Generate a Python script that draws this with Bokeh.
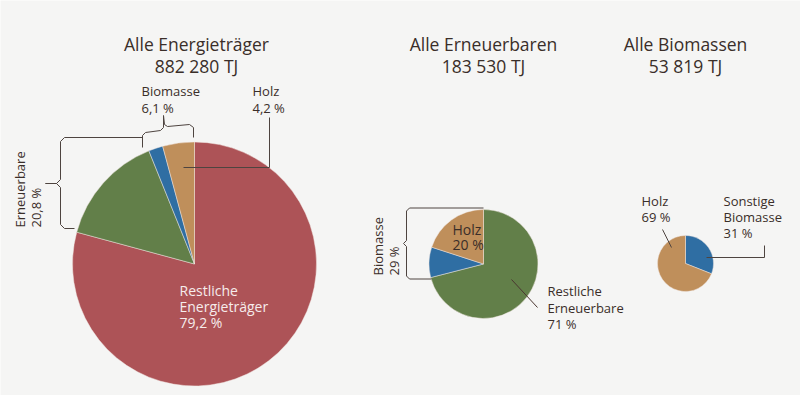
import math
from bokeh.plotting import figure
from bokeh.models import Range1d
from bokeh.core.properties import value
from bokeh.embed import file_html
from bokeh.resources import INLINE

# ---------------- data ----------------
titles = ["Alle Energieträger", "Alle Erneuerbaren", "Alle Biomassen"]
totals_tj = [882280, 183530, 53819]

pie1_cats = ["Restliche Energieträger", "Sonstige Erneuerbare", "Sonstige Biomasse", "Holz"]
pie1_vals = [79.2, 14.7, 1.9, 4.2]
pie2_cats = ["Restliche Erneuerbare", "Sonstige Biomasse", "Holz"]
pie2_vals = [71, 9, 20]
pie3_cats = ["Sonstige Biomasse", "Holz"]
pie3_vals = [31, 69]

group_erneuerbare_1 = 20.8
group_biomasse_1 = 6.1
group_biomasse_2 = 29

# ---------------- style ----------------
BG = "#f5f5f4"
TXT = "#3a2e29"
LINE = "#4e4440"
FONT = "Open Sans"
COLORS = {
    "Restliche Energieträger": "#ad5357",
    "Sonstige Erneuerbare": "#627f49",
    "Restliche Erneuerbare": "#627f49",
    "Sonstige Biomasse": "#2f6ea3",
    "Holz": "#bf8f5b",
}
DY = -4.5  # baseline correction for horizontal text

W, H = 800, 395
p = figure(width=W, height=H, output_backend="svg", toolbar_location=None,
           x_range=Range1d(0, W), y_range=Range1d(0, H),
           min_border=0, background_fill_color=BG, border_fill_color=BG,
           outline_line_color=None)
p.axis.visible = False
p.grid.visible = False


def Y(yimg):
    return H - yimg


def fmt_pct(v, dec):
    s = f"{v:.{dec}f}".replace(".", ",")
    return s + " %"


def fmt_tj(t):
    return f"{t:,}".replace(",", " ") + " TJ"


def pie(cx, cy, r, cats, vals):
    total = sum(vals)
    cum = 0.0
    xs, ys, starts, ends, cols = [], [], [], [], []
    for c, v in zip(cats, vals):
        a0 = math.pi / 2 - 2 * math.pi * (cum + v) / total
        a1 = math.pi / 2 - 2 * math.pi * cum / total
        cum += v
        xs.append(cx); ys.append(Y(cy)); starts.append(a0); ends.append(a1)
        cols.append(COLORS[c])
    p.wedge(x=xs, y=ys, radius=r, start_angle=starts, end_angle=ends,
            fill_color=cols, line_color="#f3e8e4", line_width=0.6, line_alpha=0.8)


def txt(x, y, s, size, color=TXT, align="left", angle=0.0):
    yy = y if angle else y + DY
    p.text(x=[x], y=[Y(yy)], text=[s], text_font=value(FONT),
           text_font_size=value(f"{size}px"), text_color=color,
           text_align=align, text_baseline="alphabetic", angle=angle)


def path(pts, color=LINE, width=1.0):
    p.line(x=[a for a, b in pts], y=[Y(b) for a, b in pts],
           line_color=color, line_width=width)


# ---------------- pies ----------------
pie(194, 263.5, 122, pie1_cats, pie1_vals)
pie(483, 263.5, 54.5, pie2_cats, pie2_vals)
pie(685, 263, 28, pie3_cats, pie3_vals)

# ---------------- titles ----------------
for cx, t, tot in zip([196, 483, 685], titles, totals_tj):
    txt(cx, 48, t, 17.5, align="center")
    txt(cx, 70, fmt_tj(tot), 17.5, align="center")

# ---------------- pie 1 labels ----------------
txt(141, 95, "Biomasse", 13)
txt(141, 112, fmt_pct(group_biomasse_1, 1), 13)
txt(252, 95, "Holz", 13)
txt(252, 112, fmt_pct(pie1_vals[3], 1), 13)

# Rotated "Erneuerbare 20,8 %"
txt(19, 227, "Erneuerbare", 13, angle=math.pi / 2)
txt(35, 227, fmt_pct(group_erneuerbare_1, 1), 13, angle=math.pi / 2)

# inner label
txt(179, 294, "Restliche", 14, color="#f6ecec")
txt(179, 310, "Energieträger", 14, color="#f6ecec")
txt(179, 326, fmt_pct(pie1_vals[0], 1), 14, color="#f6ecec")

# Holz leader
path([(183, 167), (269, 167), (269, 117)])

# Biomasse horizontal brace
path([(142, 147), (142, 135), (145, 132), (160, 130), (163, 127), (163, 115)])
path([(163, 115), (164, 124), (167, 126), (189, 124), (193, 127), (193, 137)])

# Erneuerbare vertical brace
path([(142, 137), (64, 137), (60, 141), (60, 179), (56, 183), (45, 183)])
path([(45, 183), (56, 183), (60, 187), (60, 224), (64, 228), (74, 228)])

# ---------------- pie 2 labels ----------------
txt(452, 233, "Holz", 14)
txt(452, 248.5, fmt_pct(pie2_vals[2], 0), 14)

txt(377, 275, "Biomasse", 13, angle=math.pi / 2)
txt(393, 275, fmt_pct(group_biomasse_2, 0), 13, angle=math.pi / 2)

path([(483, 207.5), (409, 207.5), (406, 210.5), (406, 240), (403, 243)])
path([(403, 243), (406, 246), (406, 275.5), (409, 278.5), (431, 278.5)])

txt(547, 295, "Restliche", 13)
txt(547, 312, "Erneuerbare", 13)
txt(547, 328, fmt_pct(pie2_vals[0], 0), 13)
path([(511, 279), (537, 307)], color="#4a3630")

# ---------------- pie 3 labels ----------------
txt(641, 205, "Holz", 13)
txt(641, 220.5, fmt_pct(pie3_vals[1], 0), 13)
path([(662, 229), (671, 247)])

txt(723, 205, "Sonstige", 13)
txt(723, 220.5, "Biomasse", 13)
txt(723, 236.5, fmt_pct(pie3_vals[0], 0), 13)
path([(706, 257), (764, 257), (764, 245)])

html = file_html(p, INLINE)
open("out.html", "w").write(html)
